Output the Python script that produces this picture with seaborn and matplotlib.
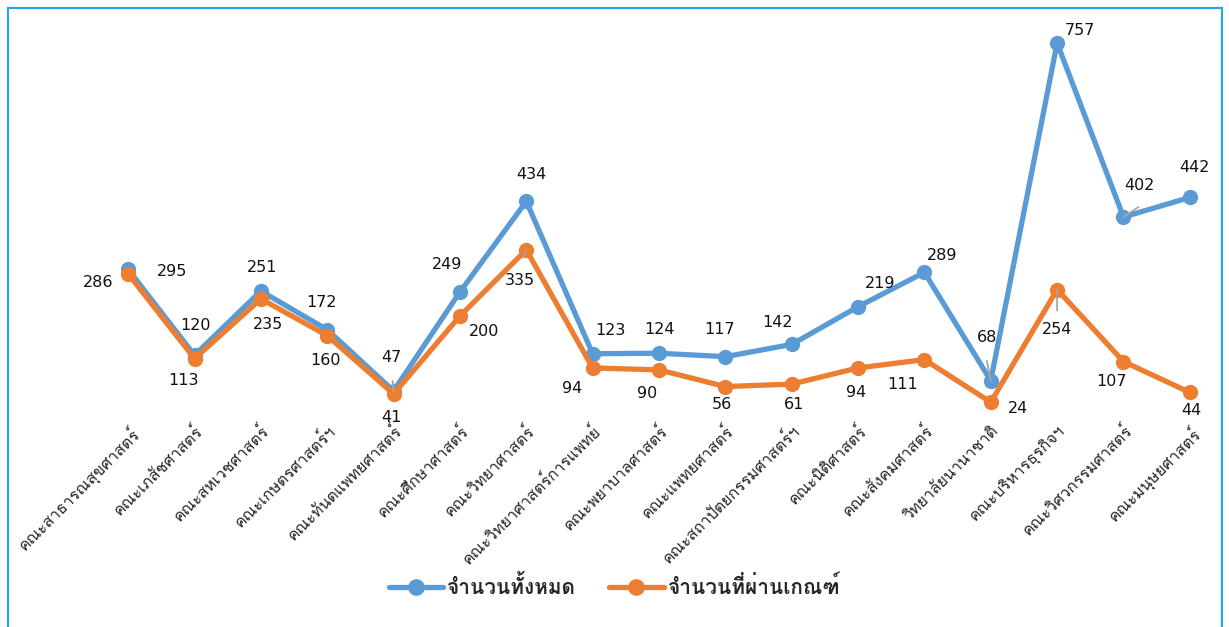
import matplotlib
matplotlib.use('Agg')
import matplotlib.pyplot as plt
import seaborn as sns
import pandas as pd
from matplotlib import font_manager
from matplotlib.ft2font import FT2Font
from matplotlib.lines import Line2D
from matplotlib.patches import Rectangle

# ข้อมูล
faculties = ['คณะสาธารณสุขศาสตร์', 'คณะเภสัชศาสตร์', 'คณะสหเวชศาสตร์', 'คณะเกษตรศาสตร์ฯ',
             'คณะทันตแพทยศาสตร์', 'คณะศึกษาศาสตร์', 'คณะวิทยาศาสตร์', 'คณะวิทยาศาสตร์การแพทย์',
             'คณะพยาบาลศาสตร์', 'คณะแพทยศาสตร์', 'คณะสถาปัตยกรรมศาสตร์ฯ', 'คณะนิติศาสตร์',
             'คณะสังคมศาสตร์', 'วิทยาลัยนานาชาติ', 'คณะบริหารธุรกิจฯ', 'คณะวิศวกรรมศาสตร์',
             'คณะมนุษยศาสตร์']
total = [295, 120, 251, 172, 47, 249, 434, 123, 124, 117, 142, 219, 289, 68, 757, 402, 442]
passed = [286, 113, 235, 160, 41, 200, 335, 94, 90, 56, 61, 94, 111, 24, 254, 107, 44]
series_names = ['จำนวนทั้งหมด', 'จำนวนที่ผ่านเกณฑ์']

# ตำแหน่งป้ายตัวเลข (พิกเซล)
total_off = [(44, -2), (1, 30), (1, 24), (-6, 27), (-2, 33), (-13, 27), (5, 27), (18, 23), (0, 24),
             (-6, 27), (-14, 22), (22, 23), (18, 17), (-4, 43), (23, 13), (16, 32), (5, 30)]
passed_off = [(-30, -9), (-11, -22), (7, -26), (-2, -25), (-2, -24), (24, -15), (-6, -31), (-21, -21),
              (-12, -24), (-3, -18), (2, -20), (-2, -25), (-22, -25), (27, -6), (0, -40), (-12, -20),
              (2, -18)]
# เส้นโยงป้าย: (ชุด, ลำดับ, dx, dy)
leaders = [(0, 4, -1, 10), (0, 13, -4, 20), (0, 15, 15, 10), (1, 6, -3, -8), (1, 14, 0, -21)]


def find_thai_font():
    for f in font_manager.fontManager.ttflist:
        try:
            if 0x0E01 in FT2Font(f.fname).get_charmap():
                return f.name
        except Exception:
            pass
    return 'DejaVu Sans'


sns.set_style('white')
thai = find_thai_font()
plt.rcParams['font.family'] = [thai, 'DejaVu Sans']

df = pd.DataFrame({
    'คณะ': faculties * 2,
    'จำนวน': total + passed,
    'ชุด': [series_names[0]] * len(total) + [series_names[1]] * len(passed),
})

colors = ['#5B9BD5', '#ED7D31']
fig = plt.figure(figsize=(12.29, 6.27), dpi=100)
ax = fig.add_axes([95 / 1229, (627 - 414) / 627, 1128 / 1229, 392 / 627])
sns.lineplot(data=df, x='คณะ', y='จำนวน', hue='ชุด', palette=colors, marker='o',
             markersize=11, markeredgewidth=0, linewidth=3.8, sort=False, legend=False, ax=ax)

ax.set_xlim(-0.5, len(faculties) - 0.5)
ax.set_ylim(0, 800)
ax.set_yticks([])
ax.set_xlabel('')
ax.set_ylabel('')
for s in ax.spines.values():
    s.set_visible(False)
ax.tick_params(axis='x', length=0, pad=6)
plt.setp(ax.get_xticklabels(), rotation=45, ha='right', rotation_mode='anchor', fontsize=11.5)

series = [total, passed]
for s_idx, i, dx, dy in leaders:
    ax.annotate('', xy=(i, series[s_idx][i]), xytext=(dx * 0.72, dy * 0.72), textcoords='offset points',
                arrowprops=dict(arrowstyle='-', color='#A6A6A6', lw=1.3, shrinkA=0, shrinkB=0), zorder=5)

for vals, offs in [(total, total_off), (passed, passed_off)]:
    for i, (v, o) in enumerate(zip(vals, offs)):
        ax.annotate(str(v), (i, v), xytext=(o[0] * 0.72, o[1] * 0.72), textcoords='offset points',
                    ha='center', va='center', fontsize=11.5, family='DejaVu Sans', color='#111111')

handles = [Line2D([], [], color=c, linewidth=3.8, marker='o', markersize=11) for c in colors]
fig.legend(handles, series_names, loc='center', bbox_to_anchor=(0.5, (627 - 587) / 627), ncol=2,
           frameon=False, handlelength=2.6, columnspacing=1.6, handletextpad=0.2,
           prop={'size': 15, 'weight': 'bold', 'family': [thai, 'DejaVu Sans']})

fig.patches.append(Rectangle((8 / 1229, -0.01), 1214 / 1229, 1.0 - 8 / 627 + 0.01, transform=fig.transFigure,
                             fill=False, edgecolor='#1EAAE7', linewidth=1.5))

fig.savefig('out.png', dpi=100)
